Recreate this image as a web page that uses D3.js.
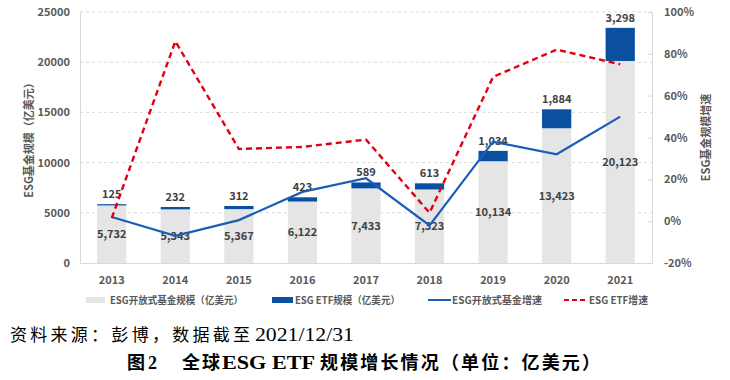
<!DOCTYPE html>
<html>
<head>
<meta charset="utf-8">
<script src="https://cdn.jsdelivr.net/npm/d3@7/dist/d3.min.js"></script>
<style>
  body { margin: 0; background: #fff; }
  svg { display: block; }
  .tick text { font-family: "Noto Sans CJK SC", "Open Sans", sans-serif; font-weight: bold; fill: #595959; font-size: 11px; }
</style>
</head>
<body>
<div id="chart"></div>
<script>
const years = ["2013", "2014", "2015", "2016", "2017", "2018", "2019", "2020", "2021"]
const openFund = [5732, 5343, 5367, 6122, 7433, 7323, 10134, 13423, 20123]
const etf = [125, 232, 312, 423, 589, 613, 1034, 1884, 3298]
const openGrowth = [2, -7, 0.5, 14, 20.5, -2, 38, 32, 50]
const etfGrowth = [1.5, 86, 34.5, 35.5, 39, 4, 69, 82, 75]
const leftTicks = [0, 5000, 10000, 15000, 20000, 25000]
const rightTicks = [-20, 0, 20, 40, 60, 80, 100]

const width = 730, height = 380
const plot = { left: 80, right: 652, top: 12, bottom: 263 }
const font = '"Noto Sans CJK SC", "Open Sans", sans-serif'
const grayBar = "#e5e5e5", blueBar = "#0b4fa1", blueLine = "#1c5db8", redLine = "#e3000f"

const svg = d3.select("#chart").append("svg").attr("width", width).attr("height", height)

const x = d3.scaleBand().domain(years).range([plot.left, plot.right]).paddingInner(0.54).paddingOuter(0.27)
const y = d3.scaleLinear().domain([0, 25000]).range([plot.bottom, plot.top])
const y2 = d3.scaleLinear().domain([-20, 100]).range([plot.bottom, plot.top])

// grid
svg.append("g").selectAll("line").data(leftTicks.filter(d => d > 0)).join("line")
  .attr("x1", plot.left).attr("x2", plot.right + 3)
  .attr("y1", d => y(d)).attr("y2", d => y(d))
  .attr("stroke", "#d9d9d9").attr("stroke-dasharray", "3,3")

// axes
const gl = svg.append("g").attr("transform", `translate(${plot.left},0)`)
  .call(d3.axisLeft(y).tickValues(leftTicks).tickFormat(d3.format("d")).tickSize(0).tickPadding(10))
gl.select(".domain").attr("stroke", "#d9d9d9")

const gr = svg.append("g").attr("transform", `translate(${plot.right},0)`)
  .call(d3.axisRight(y2).tickValues(rightTicks).tickFormat(d => d + "%").tickSizeInner(-4).tickSizeOuter(0).tickPadding(12))
gr.select(".domain").attr("stroke", "#d9d9d9")
gr.selectAll(".tick line").attr("stroke", "#d9d9d9")

const gb = svg.append("g").attr("transform", `translate(0,${plot.bottom})`)
  .call(d3.axisBottom(x).tickSize(0).tickPadding(13))
gb.select(".domain").attr("stroke", "#d9d9d9")

// axis titles
svg.append("text").attr("transform", `translate(33,${(plot.top + plot.bottom) / 2}) rotate(-90)`)
  .attr("text-anchor", "middle").attr("font-family", font).attr("font-weight", "bold")
  .attr("font-size", 11).attr("fill", "#595959").text("ESG基金规模（亿美元）")
svg.append("text").attr("transform", `translate(710,${(plot.top + plot.bottom) / 2}) rotate(-90)`)
  .attr("text-anchor", "middle").attr("font-family", font).attr("font-weight", "bold")
  .attr("font-size", 11).attr("fill", "#595959").text("ESG基金规模增速")

// bars
const rows = years.map((yr, i) => ({ yr, open: openFund[i], etf: etf[i], og: openGrowth[i], eg: etfGrowth[i] }))
svg.append("g").selectAll("rect").data(rows).join("rect")
  .attr("x", d => x(d.yr)).attr("width", x.bandwidth())
  .attr("y", d => y(d.open)).attr("height", d => y(0) - y(d.open))
  .attr("fill", grayBar)
svg.append("g").selectAll("rect").data(rows).join("rect")
  .attr("x", d => x(d.yr)).attr("width", x.bandwidth())
  .attr("y", d => y(d.open + d.etf)).attr("height", d => y(d.open) - y(d.open + d.etf))
  .attr("fill", blueBar)

// labels
const fmt = d3.format(",")
svg.append("g").selectAll("text").data(rows).join("text")
  .attr("x", d => x(d.yr) + x.bandwidth() / 2).attr("y", d => y(d.open / 2) + 4)
  .attr("text-anchor", "middle").attr("font-family", font).attr("font-weight", "bold")
  .attr("font-size", 11).attr("fill", "#404040").text(d => fmt(d.open))
svg.append("g").selectAll("text").data(rows).join("text")
  .attr("x", d => x(d.yr) + x.bandwidth() / 2).attr("y", d => y(d.open + d.etf) - 6)
  .attr("text-anchor", "middle").attr("font-family", font).attr("font-weight", "bold")
  .attr("font-size", 11).attr("fill", "#404040").text(d => fmt(d.etf))

// lines
const cx = d => x(d.yr) + x.bandwidth() / 2
svg.append("path").datum(rows)
  .attr("d", d3.line().x(cx).y(d => y2(d.og)))
  .attr("fill", "none").attr("stroke", blueLine).attr("stroke-width", 2.2)
svg.append("path").datum(rows)
  .attr("d", d3.line().x(cx).y(d => y2(d.eg)))
  .attr("fill", "none").attr("stroke", redLine).attr("stroke-width", 2.4).attr("stroke-dasharray", "6,4")

// legend
const lg = svg.append("g").attr("font-family", font).attr("font-size", 10).attr("font-weight", "bold").attr("fill", "#595959")
const legendY = 300
const legendText = (x0, x1, s) => lg.append("text").attr("x", x0).attr("y", legendY + 4)
  .attr("textLength", x1 - x0).attr("lengthAdjust", "spacingAndGlyphs").text(s)
lg.append("rect").attr("x", 86).attr("y", legendY - 3).attr("width", 19).attr("height", 6).attr("fill", grayBar)
legendText(110, 243, "ESG开放式基金规模（亿美元）")
lg.append("rect").attr("x", 272).attr("y", legendY - 3).attr("width", 21).attr("height", 6).attr("fill", blueBar)
legendText(295, 400, "ESG ETF规模（亿美元）")
lg.append("line").attr("x1", 428).attr("x2", 451).attr("y1", legendY).attr("y2", legendY).attr("stroke", blueLine).attr("stroke-width", 2)
legendText(452, 542, "ESG开放式基金增速")
lg.append("line").attr("x1", 564).attr("x2", 587).attr("y1", legendY).attr("y2", legendY).attr("stroke", redLine).attr("stroke-width", 2).attr("stroke-dasharray", "5,3")
legendText(589, 648, "ESG ETF增速")

// captions
const serif = '"Liberation Serif", "Noto Sans CJK SC", serif'
const caption = (x0, len, yy, size, bold, s, adjust = "spacing") => {
  const t = svg.append("text").attr("x", x0).attr("y", yy)
    .attr("font-family", serif).attr("font-size", size).attr("font-weight", bold ? "bold" : "normal")
    .attr("fill", "#000").text(s)
  if (len) t.attr("textLength", len).attr("lengthAdjust", adjust)
  return t
}
caption(10, 240, 341, 17, false, "资料来源：彭博，数据截至")
caption(255, 99, 341, 18, false, "2021/12/31", "spacingAndGlyphs")
caption(127, null, 369, 18, true, "图")
caption(148, null, 369, 18, true, "2")
caption(182, 38, 369, 18, true, "全球")
caption(222, 93, 369, 18, true, "ESG ETF", "spacingAndGlyphs")
caption(320, 280, 369, 18, true, "规模增长情况（单位：亿美元）")
</script>
</body>
</html>
